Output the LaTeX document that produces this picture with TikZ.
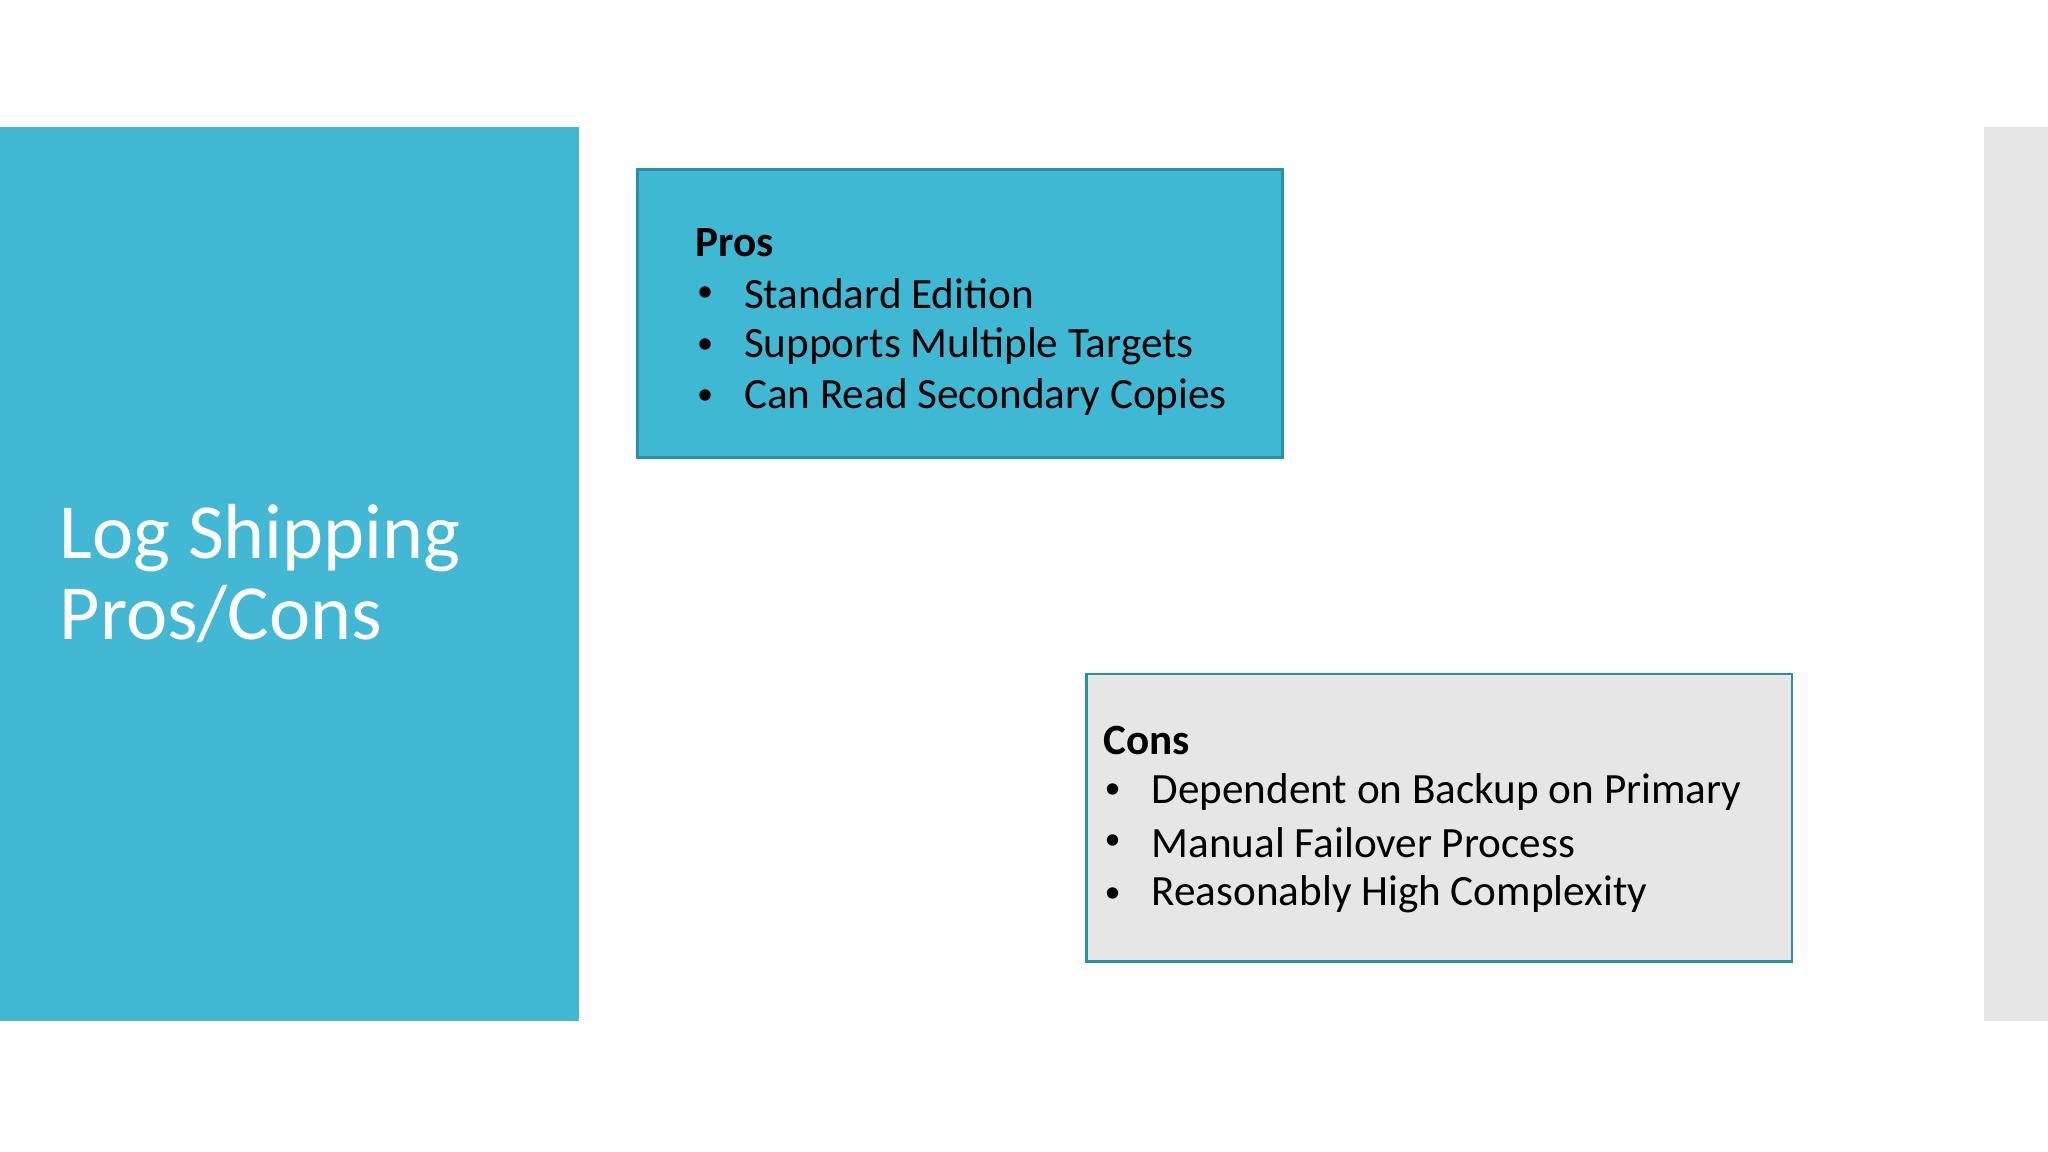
\documentclass[tikz,border=0pt]{standalone}
\usepackage{fontspec}
\setmainfont{Carlito}
\definecolor{teal1}{HTML}{42B8D5}
\definecolor{teal2}{HTML}{3FB8D4}
\definecolor{edge1}{HTML}{2A8FA8}
\definecolor{grayb}{HTML}{E6E6E6}
\tikzset{
  txt/.style={anchor=west,inner sep=0pt,font=\fontsize{9.4}{11}\selectfont,text=black},
  hd/.style={txt,font=\fontsize{9.4}{11}\selectfont\bfseries},
  bul/.style={txt,font=\fontsize{7}{8}\selectfont},
}
\begin{document}
\begin{tikzpicture}[x=0.01cm,y=-0.01cm]
\useasboundingbox (0,0) rectangle (1568,882);
\fill[white] (0,0) rectangle (1568,882);
\fill[teal1] (0,97) rectangle (443,782);
\fill[grayb] (1519,97) rectangle (1568,782);
\node[anchor=west,inner sep=0pt,text=white,align=left,font=\fontsize{17}{17.6}\selectfont] (title) at (45,439) {Log Shipping\\Pros/Cons};
\filldraw[draw=edge1,fill=teal2,line width=0.6pt] (488,130) rectangle (982,350);
\filldraw[draw=edge1,fill=grayb,line width=0.6pt] (832,516) rectangle (1372,736);
\node[hd] (ph) at (532,186) {Pros};
\foreach \y/\t [count=\i] in {225/Standard Edition,265/Supports Multiple Targets,304/Can Read Secondary Copies}{
  \node[bul] (pb\i) at (533,\y) {•};
  \node[txt] (pt\i) at (569,\y) {\t};
}
\node[hd] (ch) at (844,567) {Cons};
\foreach \y/\t [count=\i] in {606/Dependent on Backup on Primary,645/Manual Failover Process,685/Reasonably High Complexity}{
  \node[bul] (cb\i) at (845,\y) {•};
  \node[txt] (ct\i) at (881,\y) {\t};
}
\end{tikzpicture}
\end{document}
